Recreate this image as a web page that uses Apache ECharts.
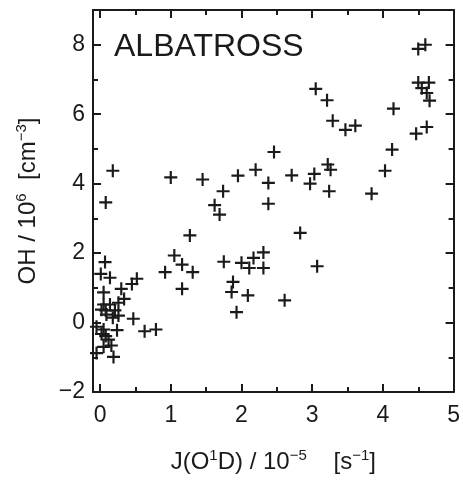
<!DOCTYPE html>
<html>
<head>
<meta charset="utf-8">
<script src="https://cdn.jsdelivr.net/npm/echarts@6/dist/echarts.min.js"></script>
<style>
  html, body { margin: 0; padding: 0; background: #fff; }
  #chart { width: 463px; height: 483px; }
</style>
</head>
<body>
<div id="chart"></div>
<script>
// Photolysis frequency J(O1D) [1e-5 s-1] and OH concentration [1e6 cm-3]
const jO1D = [
  0.07, 0.01, 0.14, 0.52, 0.45, 0.30, 0.05, 0.34, 0.26, 0.05,
  0.14, 0.02, 0.08, 0.21, 0.09, 0.18, 0.26, 0.47, 0.63, 0.79,
  -0.05, 0.05, 0.24, 0.02, 0.08, 0.12, 0.16, 0.05, -0.05, 0.19,
  0.18, 0.08, 1.00, 1.45, 1.27, 1.05, 1.16, 0.92, 1.31, 1.16,
  1.75, 2.00, 2.17, 2.31, 2.11, 2.31, 1.88, 1.86, 2.09, 1.93,
  2.61, 2.46, 2.20, 1.95, 2.38, 1.74, 1.62, 1.69, 2.38, 3.05,
  3.21, 3.29, 3.47, 3.61, 3.22, 3.26, 2.71, 3.03, 2.97, 3.24,
  2.83, 3.07, 4.50, 4.60, 4.50, 4.65, 4.55, 4.62, 4.66, 4.15,
  4.47, 4.62, 4.13, 4.03, 3.84
];
const ohConc = [
  1.74, 1.40, 1.29, 1.26, 1.11, 0.97, 0.87, 0.68, 0.57, 0.52,
  0.52, 0.37, 0.35, 0.35, 0.23, 0.14, 0.20, 0.11, -0.25, -0.20,
  -0.12, -0.20, -0.22, -0.33, -0.39, -0.49, -0.66, -0.70, -0.88, -0.99,
  4.37, 3.46, 4.18, 4.12, 2.51, 1.93, 1.67, 1.45, 1.45, 0.97,
  1.75, 1.72, 1.86, 2.02, 1.57, 1.57, 1.17, 0.88, 0.78, 0.30,
  0.64, 4.91, 4.40, 4.23, 4.02, 3.78, 3.38, 3.11, 3.42, 6.73,
  6.40, 5.81, 5.55, 5.67, 4.55, 4.40, 4.24, 4.28, 4.00, 3.78,
  2.58, 1.62, 7.88, 8.00, 6.91, 6.91, 6.75, 6.61, 6.39, 6.16,
  5.44, 5.63, 4.98, 4.37, 3.71
];

// Tick positions
const xMajorTicks = [0, 1, 2, 3, 4, 5];
const xMinorTicks = [0.5, 1.5, 2.5, 3.5, 4.5];
const yMajorTicks = [-2, 0, 2, 4, 6, 8];
const yMinorTicks = [-1, 1, 3, 5, 7];

const campaign = 'ALBATROSS';

const ink = '#1a1a1a';
const fontFamily = '"Liberation Sans", Arial, Helvetica, sans-serif';

const points = jO1D.map((x, i) => [x, ohConc[i]]);

// rich styles for axis titles with superscripts
const titleRich = {
  a: { fontSize: 24, color: ink, fontFamily: fontFamily, lineHeight: 28 },
  s: { fontSize: 15, color: ink, fontFamily: fontFamily, lineHeight: 15, verticalAlign: 'top' }
};

function xAx(position, ticks, len, showLine, showLabels, extra) {
  return Object.assign({
    type: 'value', position: position, min: -0.1, max: 5,
    axisLine: { show: showLine, onZero: false, lineStyle: { color: ink, width: 2 } },
    axisTick: { show: true, inside: true, length: len, customValues: ticks, lineStyle: { color: ink, width: 2 } },
    axisLabel: showLabels
      ? { show: true, customValues: ticks, color: ink, fontSize: 23, fontFamily: fontFamily, margin: 12 }
      : { show: false },
    splitLine: { show: false }
  }, extra || {});
}
function yAx(position, ticks, len, showLine, showLabels, extra) {
  return Object.assign({
    type: 'value', position: position, min: -2, max: 9,
    axisLine: { show: showLine, onZero: false, lineStyle: { color: ink, width: 2 } },
    axisTick: { show: true, inside: true, length: len, customValues: ticks, lineStyle: { color: ink, width: 2 } },
    axisLabel: showLabels
      ? { show: true, customValues: ticks, color: ink, fontSize: 23, fontFamily: fontFamily, margin: 8,
          formatter: v => (v < 0 ? '\u2212' + Math.abs(v) : String(v)) }
      : { show: false },
    splitLine: { show: false }
  }, extra || {});
}

const chart = echarts.init(document.getElementById('chart'), null, { renderer: 'canvas' });
chart.setOption({
  backgroundColor: '#fff',
  animation: false,
  title: {
    text: campaign, left: 109, top: 26,
    textStyle: { color: ink, fontSize: 32, fontWeight: 'normal', fontFamily: fontFamily }
  },
  grid: { left: 93, top: 10, right: 8, bottom: 91 },
  xAxis: [
    xAx('bottom', xMajorTicks, 8, true, true, {
      name: '{a|J(O}{s|1}{a|D) / 10}{s|\u22125}{a|    [s}{s|\u22121}{a|]}',
      nameLocation: 'middle', nameGap: 56,
      nameTextStyle: { color: ink, fontFamily: fontFamily, rich: titleRich }
    }),
    xAx('bottom', xMinorTicks, 5, false, false),
    xAx('top', xMajorTicks, 8, true, false),
    xAx('top', xMinorTicks, 5, false, false)
  ],
  yAxis: [
    yAx('left', yMajorTicks, 8, true, true, {
      name: '{a|OH / 10}{s|6}{a|  [cm}{s|\u22123}{a|]}',
      nameLocation: 'middle', nameGap: 51, nameRotate: 90,
      nameTextStyle: { color: ink, fontFamily: fontFamily, rich: titleRich }
    }),
    yAx('left', yMinorTicks, 5, false, false),
    yAx('right', yMajorTicks, 8, true, false),
    yAx('right', yMinorTicks, 5, false, false)
  ],
  series: [{
    type: 'scatter',
    xAxisIndex: 0, yAxisIndex: 0,
    data: points,
    symbol: 'path://M-1,-6 H1 V-1 H6 V1 H1 V6 H-1 V1 H-6 V-1 H-1 Z',
    symbolSize: 13,
    itemStyle: { color: ink, opacity: 1 },
    emphasis: { disabled: true }
  }]
});
</script>
</body>
</html>
